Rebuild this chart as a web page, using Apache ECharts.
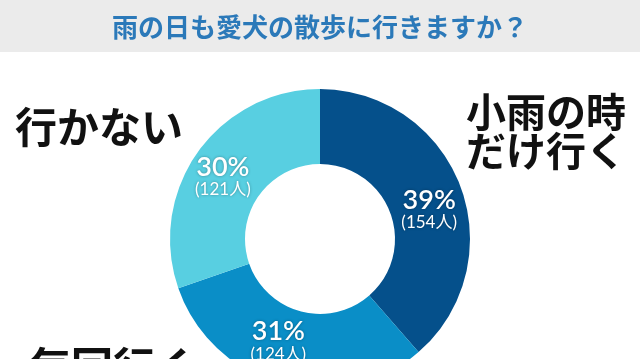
<!DOCTYPE html>
<html><head><meta charset="utf-8">
<script src="https://cdn.jsdelivr.net/npm/echarts@6/dist/echarts.min.js"></script>
<style>html,body{margin:0;padding:0;background:#fff}#c{width:640px;height:359px}</style>
</head><body><div id="c"></div>
<script>
const titleText = '雨の日も愛犬の散歩に行きますか？';
const categories = ['小雨の時\nだけ行く', '毎回行く', '行かない'];
const counts = [154, 124, 121];
const percents = [39, 31, 30];
const colors = ['#05508b', '#0a8ec7', '#58cfe1'];

const jp = '"Noto Sans CJK JP", sans-serif';
const num = 'Lato, "Noto Sans CJK JP", sans-serif';
const labelOffsets = [[1, 12], [-12, -9], [-3, 5]];
const chart = echarts.init(document.getElementById('c'), null, {renderer: 'canvas'});
const bigLabel = (i, x, y, fs) => ({
  type: 'text', left: x, top: y,
  style: {text: categories[i], font: 'bold ' + fs + 'px ' + jp, fill: '#111', lineHeight: 39}
});
chart.setOption({
  animation: false,
  backgroundColor: '#fff',
  graphic: [
    {type: 'rect', shape: {x: 0, y: 0, width: 640, height: 52}, style: {fill: '#ebebeb'}, z: -1},
    bigLabel(0, 466, 92, 40),
    bigLabel(2, 15, 106, 42),
    bigLabel(1, 29, 346, 42)
  ],
  title: {
    text: titleText, left: 'center', top: 9,
    textStyle: {fontFamily: jp, fontSize: 26, fontWeight: 'bold', color: '#2b79b9'}
  },
  series: [{
    type: 'pie',
    center: [320, 239],
    radius: [75, 150],
    startAngle: 90,
    clockwise: true,
    silent: true,
    labelLine: {show: false},
    itemStyle: {borderWidth: 0},
    label: {
      show: true, position: 'inside',
      formatter: p => '{p|' + percents[p.dataIndex] + '%}\n{n|(' + counts[p.dataIndex] + '人)}',
      rich: {
        p: {fontFamily: num, fontSize: 27, fontWeight: 600, color: '#fff', lineHeight: 25,
            textShadowColor: 'rgba(0,0,0,0.35)', textShadowBlur: 3},
        n: {fontFamily: num, fontSize: 17, color: '#fff', lineHeight: 20,
            textShadowColor: 'rgba(0,0,0,0.35)', textShadowBlur: 3}
      }
    },
    data: categories.map((c, i) => ({
      name: c, value: counts[i],
      itemStyle: {color: colors[i]},
      label: {offset: labelOffsets[i]}
    }))
  }]
});
</script></body></html>
